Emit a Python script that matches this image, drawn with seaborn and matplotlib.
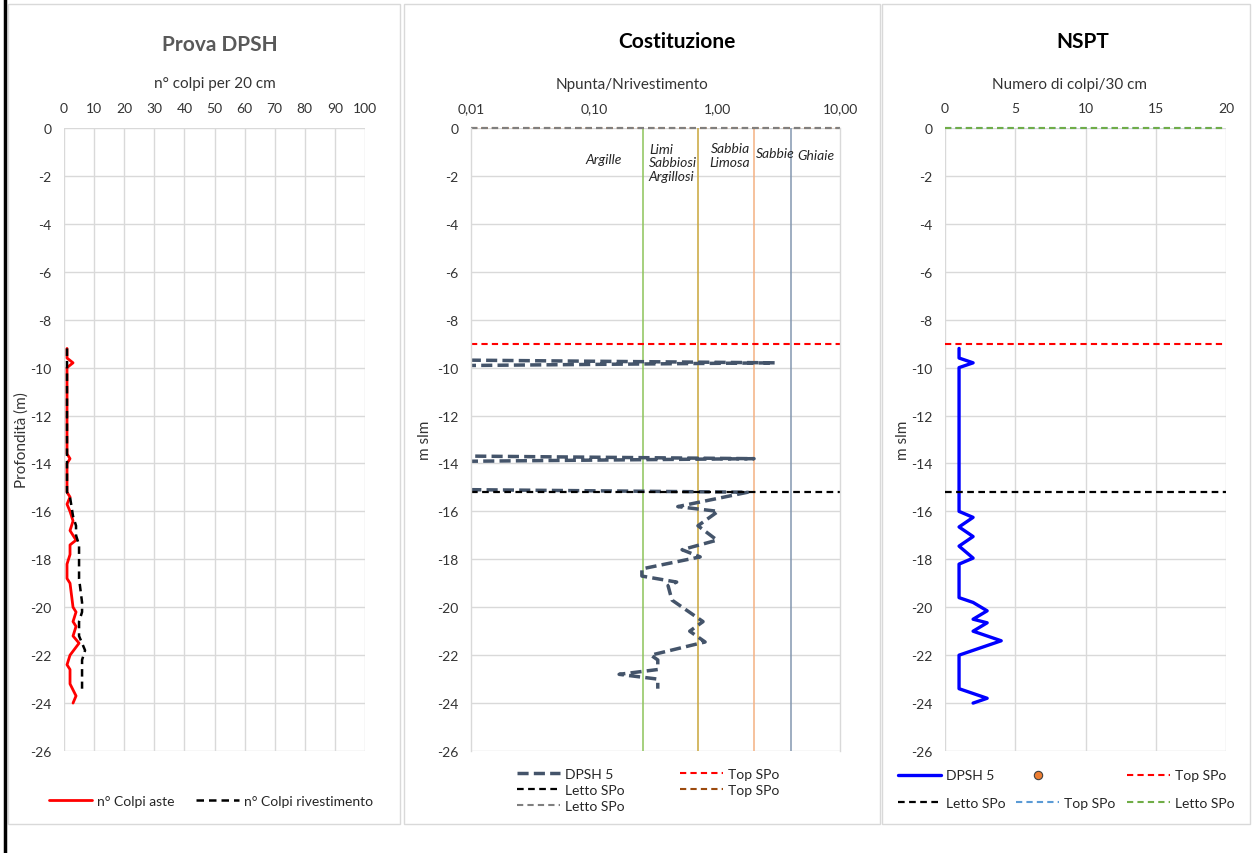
import matplotlib
matplotlib.use("Agg")
import matplotlib.pyplot as plt
import seaborn as sns
from matplotlib.lines import Line2D
from matplotlib.patches import Rectangle

# ---------------- data ----------------
aste_depth = [-9.2, -9.6, -9.8, -10.0, -13.6, -13.8, -14.0, -15.0, -15.2, -15.4, -15.7,
              -16.0, -16.4, -16.8, -17.2, -17.4, -17.8, -18.2, -18.8, -19.0, -20.0,
              -20.2, -20.6, -20.8, -21.2, -21.5, -22.0, -22.4, -22.6, -23.2, -23.7, -24.0]
aste_colpi = [1, 1, 3, 1, 1, 2, 1, 1, 1, 2, 1,
              2, 3, 2, 4, 2, 2, 1, 1, 2, 3,
              4, 3, 4, 3, 5, 2, 1, 2, 2, 4, 3]

riv_depth = [-9.2, -15.2, -15.4, -16.2, -16.6, -17.0, -17.4, -18.8, -19.8, -20.2,
             -20.6, -21.2, -21.8, -22.2, -23.4]
riv_colpi = [1, 1, 2, 3, 4, 4, 5, 5, 6, 6,
             5, 5, 7, 6, 6]

ratio_depth = [-9.6, -9.8, -10.0, -13.6, -13.8, -14.0, -15.0, -15.2, -15.8, -16.0,
               -16.6, -17.2, -17.6, -17.9, -18.4, -18.7, -18.95, -19.1, -19.7, -20.6,
               -21.0, -21.45, -22.0, -22.2, -22.6, -22.8, -23.0, -23.4]
ratio_value = [0.0001, 2.95, 0.0001, 0.0001, 2.0, 0.0001, 0.0001, 1.78, 0.48, 1.02,
               0.70, 1.0, 0.52, 0.73, 0.245, 0.245, 0.47, 0.40, 0.43, 0.77,
               0.60, 0.80, 0.29, 0.33, 0.33, 0.16, 0.33, 0.33]

nspt_depth = [-9.2, -9.6, -9.8, -10.0, -16.0, -16.25, -16.65, -17.05, -17.45, -17.95,
              -18.2, -19.6, -19.8, -20.15, -20.5, -20.65, -21.0, -21.4, -22.0, -23.4,
              -23.8, -24.0]
nspt_value = [1, 1, 2, 1, 1, 2, 1, 2, 1, 2,
              1, 1, 2, 3, 2, 3, 2, 4, 1, 1,
              3, 2]

class_limits = [0.25, 0.7, 2.0, 4.0]
class_colors = ["#8DC35A", "#C9A53A", "#F4B183", "#8497B0"]
class_names = ["Argille", "Limi\nSabbiosi\nArgillosi", "Sabbia\nLimosa", "Sabbie", "Ghiaie"]

piano_campagna = 0.0
top_spo = -9.0
letto_spo = -15.2

y_ticks = list(range(0, -27, -2))
x1_ticks = list(range(0, 101, 10))
x2_ticks = [0.01, 0.1, 1, 10]
x2_ticklabels = ["0,01", "0,10", "1,00", "10,00"]
x3_ticks = [0, 5, 10, 15, 20]

# ---------------- style ----------------
sns.set_theme(style="white")
plt.rcParams["font.family"] = ["Lato", "DejaVu Sans"]
plt.rcParams["axes.unicode_minus"] = False

W, H = 1252, 854
fig = plt.figure(figsize=(W / 100, H / 100), dpi=100)
fig.patch.set_facecolor("white")

def px_axes(x0, x1, y0, y1):
    return fig.add_axes([x0 / W, 1 - y1 / H, (x1 - x0) / W, (y1 - y0) / H])

# panel frames
for (x0, x1) in [(8, 400), (404, 880), (882, 1250)]:
    fig.add_artist(Rectangle((x0 / W, 1 - 825 / H), (x1 - x0) / W, (825 - 5) / H,
                             transform=fig.transFigure, fill=False,
                             edgecolor="#D9D9D9", lw=1))
fig.add_artist(Line2D([5 / W, 5 / W], [0, 1], transform=fig.transFigure,
                      color="black", lw=2.5))

ax1 = px_axes(64, 365, 129, 752)
ax2 = px_axes(471, 840, 129, 752)
ax3 = px_axes(945, 1226, 129, 752)

GRID = "#D9D9D9"
TXT = "#333333"
TICK_FS = 10
LAB_FS = 11
LEG_FS = 10

for ax in (ax1, ax2, ax3):
    ax.set_ylim(-26, 0)
    ax.set_yticks(y_ticks)
    ax.set_yticklabels([str(t) for t in y_ticks])
    ax.xaxis.tick_top()
    ax.xaxis.set_label_position("top")
    ax.tick_params(axis="both", length=0, labelsize=TICK_FS, colors=TXT)
    ax.tick_params(axis="y", pad=9)
    ax.tick_params(axis="x", pad=10)
    for s in ax.spines.values():
        s.set_visible(False)
    ax.set_axisbelow(True)

# ---- panel 1 ----
ax1.set_xlim(0, 100)
ax1.set_xticks(x1_ticks)
ax1.grid(True, color=GRID, lw=1)
sns.lineplot(x=aste_colpi, y=aste_depth, sort=False, estimator=None, ax=ax1,
             color="#FF0000", lw=2.0)
h_aste = ax1.lines[-1]
sns.lineplot(x=riv_colpi, y=riv_depth, sort=False, estimator=None, ax=ax1,
             color="black", lw=1.8, linestyle=(0, (3, 2)))
h_riv = ax1.lines[-1]
ax1.set_xlabel("n° colpi per 20 cm", fontsize=LAB_FS, color=TXT)
ax1.xaxis.label.set_va("center")
ax1.xaxis.set_label_coords(0.5, (752 - 84) / 623)
ax1.set_ylabel("Profondità (m)", fontsize=LAB_FS, color=TXT)
ax1.yaxis.label.set_va("center")
ax1.yaxis.set_label_coords((22 - 64) / 301, 0.5)
ax1.legend([h_aste, h_riv], ["n° Colpi aste", "n° Colpi rivestimento"],
           loc="center", bbox_to_anchor=(211 / W, 1 - 802 / H),
           bbox_transform=fig.transFigure, ncol=2, frameon=False, fontsize=LEG_FS,
           handlelength=3.1, handletextpad=0.35, columnspacing=1.5, borderpad=0)

# ---- panel 2 ----
ax2.set_xscale("log")
ax2.set_xlim(0.01, 10)
ax2.set_xticks(x2_ticks)
ax2.set_xticklabels(x2_ticklabels)
ax2.minorticks_off()
ax2.yaxis.grid(True, color=GRID, lw=1)
ax2.xaxis.grid(False)
for side in ("left", "right"):
    ax2.spines[side].set_visible(True)
    ax2.spines[side].set_color(GRID)
    ax2.spines[side].set_linewidth(1)
for v, c in zip(class_limits, class_colors):
    ax2.axvline(v, color=c, lw=1.1, zorder=1.5)
sns.lineplot(x=ratio_value, y=ratio_depth, sort=False, estimator=None, ax=ax2,
             color="#44546A", lw=2.5, linestyle=(0, (3.2, 1.5)))
h_dpsh = ax2.lines[-1]
h_top_r = ax2.axhline(top_spo, color="#FF0000", lw=1.5, ls=(0, (3, 2)))
h_letto_k = ax2.axhline(letto_spo, color="black", lw=1.6, ls=(0, (3, 2)))
h_top_b = ax2.axhline(piano_campagna, color="#9C4A0E", lw=1.5, ls=(0, (3, 2)), clip_on=False)
h_letto_g = ax2.axhline(piano_campagna, color="#7F7F7F", lw=1.5, ls=(0, (3, 2)), clip_on=False)
ax2.set_xlabel("Npunta/Nrivestimento", fontsize=LAB_FS, color=TXT)
ax2.xaxis.label.set_va("center")
ax2.xaxis.set_label_coords((632 - 471) / 369, (752 - 85) / 623)
ax2.set_ylabel("m slm", fontsize=LAB_FS, color=TXT)
ax2.yaxis.label.set_va("center")
ax2.yaxis.set_label_coords((425 - 471) / 369, 0.5)
ax2.legend([h_dpsh, h_letto_k, h_letto_g, h_top_r, h_top_b],
           ["DPSH 5", "Letto SPo", "Letto SPo", "Top SPo", "Top SPo"],
           loc="center", bbox_to_anchor=(648 / W, 1 - 791 / H),
           bbox_transform=fig.transFigure, ncol=2, frameon=False, fontsize=LEG_FS,
           handlelength=3.1, handletextpad=0.35, columnspacing=4.0,
           labelspacing=0.3, borderpad=0)

# class labels
label_pos = [(0.360, 0.950, "center"), (0.482, 0.945, "left"), (0.702, 0.957, "center"),
             (0.824, 0.960, "center"), (0.935, 0.956, "center")]
for (x, y, ha), name in zip(label_pos, class_names):
    ax2.text(x, y, name, transform=ax2.transAxes, ha=ha, va="center",
             fontsize=10, style="italic", color="#262626", linespacing=1.15)

# ---- panel 3 ----
ax3.set_xlim(0, 20)
ax3.set_xticks(x3_ticks)
ax3.grid(True, color=GRID, lw=1)
sns.lineplot(x=nspt_value, y=nspt_depth, sort=False, estimator=None, ax=ax3,
             color="#0000FF", lw=2.4)
h_nspt = ax3.lines[-1]
h3_top_r = ax3.axhline(top_spo, color="#FF0000", lw=1.5, ls=(0, (3, 2)))
h3_letto_k = ax3.axhline(letto_spo, color="black", lw=1.6, ls=(0, (3, 2)))
h3_top_b = ax3.axhline(piano_campagna, color="#5B9BD5", lw=1.5, ls=(0, (3, 2)), clip_on=False)
h3_letto_g = ax3.axhline(piano_campagna, color="#70AD47", lw=1.5, ls=(0, (3, 2)), clip_on=False)
h3_pt = Line2D([], [], marker="o", ls="none", markersize=6,
               markerfacecolor="#ED7D31", markeredgecolor="#404040", markeredgewidth=0.8)
ax3.set_xlabel("Numero di colpi/30 cm", fontsize=LAB_FS, color=TXT)
ax3.xaxis.label.set_va("center")
ax3.xaxis.set_label_coords((1070 - 945) / 281, (752 - 85) / 623)
ax3.set_ylabel("m slm", fontsize=LAB_FS, color=TXT)
ax3.yaxis.label.set_va("center")
ax3.yaxis.set_label_coords((903 - 945) / 281, 0.5)
ax3.legend([h_nspt, h3_letto_k, h3_pt, h3_top_b, h3_top_r, h3_letto_g],
           ["DPSH 5", "Letto SPo", "", "Top SPo", "Top SPo", "Letto SPo"],
           loc="center", bbox_to_anchor=(1066 / W, 1 - 790 / H),
           bbox_transform=fig.transFigure, ncol=3, frameon=False, fontsize=LEG_FS,
           handlelength=3.1, handletextpad=0.35, columnspacing=0.8,
           labelspacing=1.1, borderpad=0)

# titles
fig.text(220 / W, 1 - 45 / H, "Prova DPSH", ha="center", va="center",
         fontsize=15, fontweight="bold", color="#595959")
fig.text(677 / W, 1 - 42 / H, "Costituzione", ha="center", va="center",
         fontsize=15, fontweight="bold", color="black")
fig.text(1083 / W, 1 - 42 / H, "NSPT", ha="center", va="center",
         fontsize=15, fontweight="bold", color="black")

fig.savefig("out.png", dpi=100, facecolor="white")
